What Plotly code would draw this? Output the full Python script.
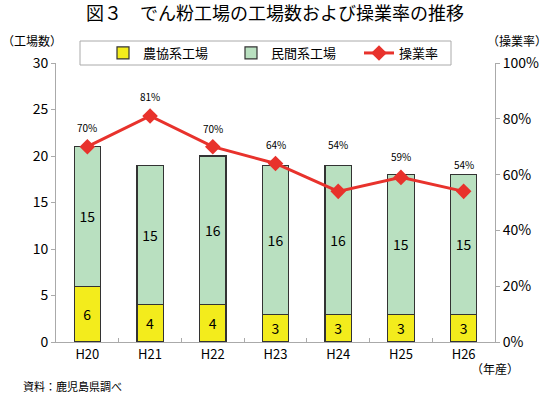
import plotly.graph_objects as go

categories = ["H20", "H21", "H22", "H23", "H24", "H25", "H26"]
nokyo = [6, 4, 4, 3, 3, 3, 3]
minkan = [15, 15, 16, 16, 16, 15, 15]
rate = [70, 81, 70, 64, 54, 59, 54]

# label offsets (pixels above each point), as placed in the reference
label_shift = [19, 20, 18, 19, 47, 21, 27]

FONT = "Noto Sans CJK JP"
GRAY = "#AAAAAA"

L, R, T, B = 56, 55, 63, 54
W, H = 550, 396
PW, PH = W - L - R, H - T - B


def px(xpix):
    return (xpix - L) / PW


def py(ypix):
    return (H - B - ypix) / PH


fig = go.Figure()
fig.add_trace(go.Bar(
    x=categories, y=nokyo, name="農協系工場",
    marker=dict(color="#F3EC1C", line=dict(color="#333333", width=1.2)),
    text=[str(v) for v in nokyo], textposition="inside", insidetextanchor="middle",
    textfont=dict(size=14, color="black", family=FONT), width=0.42,
))
fig.add_trace(go.Bar(
    x=categories, y=minkan, name="民間系工場",
    marker=dict(color="#B9E0C0", line=dict(color="#333333", width=1.2)),
    text=[str(v) for v in minkan], textposition="inside", insidetextanchor="middle",
    textfont=dict(size=14, color="black", family=FONT), width=0.42,
))
fig.add_trace(go.Scatter(
    x=categories, y=[r / 100 for r in rate], name="操業率", yaxis="y2",
    mode="lines+markers",
    line=dict(color="#E8322C", width=3),
    marker=dict(symbol="diamond", size=12, color="#E8322C"),
    cliponaxis=False,
))

for c, r, s in zip(categories, rate, label_shift):
    fig.add_annotation(x=c, y=r / 100, xref="x", yref="y2", text=f"{r}%",
                       showarrow=False, yshift=s, yanchor="middle",
                       font=dict(size=10, color="black", family=FONT))

fig.update_layout(
    width=W, height=H,
    barmode="stack",
    paper_bgcolor="white", plot_bgcolor="white",
    margin=dict(l=L, r=R, t=T, b=B, autoexpand=False),
    font=dict(family=FONT, color="black"),
    title=dict(text="図３　でん粉工場の工場数および操業率の推移", x=0.5, xanchor="center",
               yref="container", y=1 - 14 / H, yanchor="middle",
               font=dict(size=18, family=FONT)),
    xaxis=dict(showline=True, linecolor=GRAY, linewidth=1,
               ticks="inside", tickson="boundaries", ticklen=4, tickcolor=GRAY,
               tickfont=dict(size=13, family=FONT), showgrid=False),
    yaxis=dict(range=[0, 30], dtick=5, showline=True, linecolor=GRAY, linewidth=1,
               ticks="outside", ticklen=4, tickcolor=GRAY, showgrid=False,
               tickfont=dict(size=14, family=FONT), zeroline=False),
    yaxis2=dict(range=[0, 1], dtick=0.2, tickformat=".0%", overlaying="y", side="right",
                showline=True, linecolor=GRAY, linewidth=1,
                ticks="outside", ticklen=4, tickcolor=GRAY, showgrid=False,
                tickfont=dict(size=14, family=FONT), zeroline=False),
    legend=dict(orientation="h", x=px(103), xanchor="left", y=py(53), yanchor="middle",
                borderwidth=0, bgcolor="rgba(0,0,0,0)",
                font=dict(size=13, family=FONT), entrywidth=83, traceorder="normal"),
    showlegend=True,
)

fig.add_shape(type="rect", xref="paper", yref="paper",
              x0=px(80), x1=px(451), y0=py(65), y1=py(41),
              line=dict(color=GRAY, width=1), fillcolor="white", layer="below")

fig.add_annotation(text="（工場数）", xref="paper", yref="paper", x=px(0), y=py(40),
                   xanchor="left", yanchor="middle", showarrow=False, font=dict(size=12, family=FONT))
fig.add_annotation(text="（操業率）", xref="paper", yref="paper", x=px(549), y=py(40),
                   xanchor="right", yanchor="middle", showarrow=False, font=dict(size=12, family=FONT))
fig.add_annotation(text="（年産）", xref="paper", yref="paper", x=px(469), y=py(368),
                   xanchor="left", yanchor="middle", showarrow=False, font=dict(size=12, family=FONT))
fig.add_annotation(text="資料：鹿児島県調べ", xref="paper", yref="paper", x=px(21), y=py(386),
                   xanchor="left", yanchor="middle", showarrow=False, font=dict(size=11, family=FONT))

fig.write_html("out.html", config={"displayModeBar": False},
               post_script="document.body.style.margin='0';document.body.style.padding='0';")
